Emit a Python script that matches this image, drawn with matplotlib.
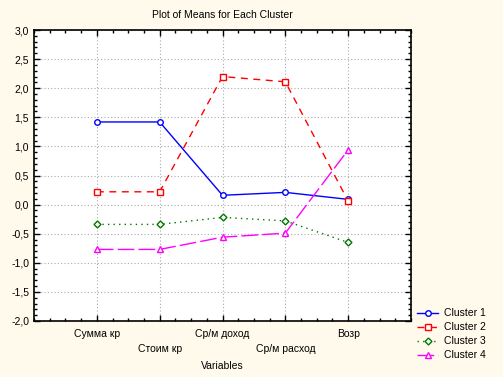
import matplotlib.pyplot as plt
import numpy as np
from matplotlib.ticker import MultipleLocator, FuncFormatter

# Данные
variables = ['Сумма кр', 'Стоим кр', 'Ср/м доход', 'Ср/м расход', 'Возр']
cluster1 = [1.42, 1.42, 0.16, 0.21, 0.09]
cluster2 = [0.22, 0.22, 2.20, 2.11, 0.06]
cluster3 = [-0.34, -0.34, -0.22, -0.28, -0.65]
cluster4 = [-0.77, -0.77, -0.56, -0.49, 0.94]
labels = ['Cluster 1', 'Cluster 2', 'Cluster 3', 'Cluster 4']

plt.rcParams['font.family'] = ['Liberation Sans', 'DejaVu Sans']

fig = plt.figure(figsize=(5.03, 3.77), dpi=100, facecolor='#fffaec')
ax = fig.add_axes([34 / 503, 1 - 321 / 377, 377 / 503, 291 / 377])
ax.set_facecolor('white')

x = np.arange(1, len(variables) + 1)
styles = [
    dict(color='#0000ff', linestyle='-', marker='o'),
    dict(color='#ff0000', linestyle=(0, (5, 4)), marker='s'),
    dict(color='#007700', linestyle=(0, (1, 3)), marker='D', markersize=3.5),
    dict(color='#ff00ff', linestyle=(0, (12, 3)), marker='^'),
]
for vals, lab, st in zip([cluster1, cluster2, cluster3, cluster4], labels, styles):
    kw = dict(linewidth=1, markersize=4, markerfacecolor='white', markeredgewidth=1)
    kw.update(st)
    ax.plot(x, vals, label=lab, **kw)

ax.set_xlim(0, 6)
ax.set_ylim(-2, 3)
ax.set_xticks(x)
ax.set_xticklabels([v if i % 2 == 0 else '\n' + v for i, v in enumerate(variables)],
                   fontsize=7.5, linespacing=1.6)
ax.xaxis.set_minor_locator(MultipleLocator(0.25))
ax.yaxis.set_major_locator(MultipleLocator(0.5))
ax.yaxis.set_minor_locator(MultipleLocator(0.1))
ax.yaxis.set_major_formatter(FuncFormatter(lambda v, p: f'{v:.1f}'.replace('.', ',')))
ax.tick_params(axis='y', labelsize=7.5)
ax.tick_params(which='both', direction='in', top=True, right=True, width=1)
ax.tick_params(which='major', length=4)
ax.tick_params(which='minor', length=2)
ax.tick_params(axis='x', pad=6)
ax.grid(True, which='major', linestyle=(0, (1, 2)), color='#aaaaaa', linewidth=0.8)
for s in ax.spines.values():
    s.set_linewidth(1.2)

ax.set_xlabel('Variables', fontsize=7.5, labelpad=5)
ax.set_title('Plot of Means for Each Cluster', fontsize=7.5, pad=9)
ax.legend(loc='upper left', bbox_to_anchor=(1.0, 0.065), frameon=False, fontsize=7.5,
          handlelength=2.0, labelspacing=0.38, borderaxespad=0.2, handletextpad=0.6)

plt.savefig('out.png', dpi=100, facecolor=fig.get_facecolor())
plt.close()
